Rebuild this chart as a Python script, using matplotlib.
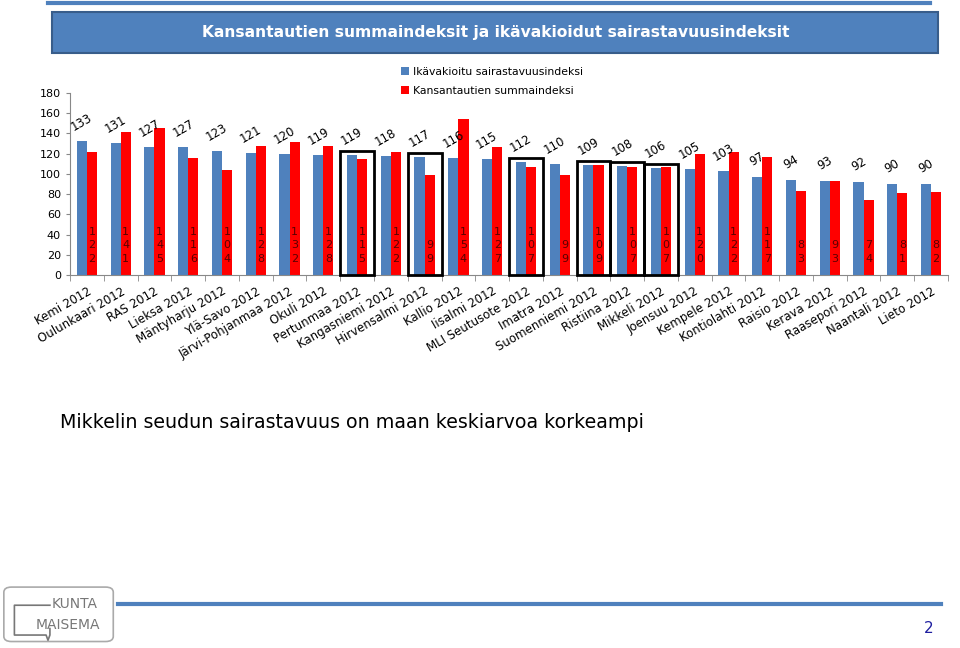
import matplotlib
matplotlib.use("Agg")
import matplotlib.pyplot as plt
from matplotlib.patches import Rectangle, FancyBboxPatch
import numpy as np

areas = ["Kemi 2012", "Oulunkaari 2012", "RAS 2012", "Lieksa 2012", "Mäntyharju 2012",
         "Ylä-Savo 2012", "Järvi-Pohjanmaa 2012", "Okuli 2012", "Pertunmaa 2012",
         "Kangasniemi 2012", "Hirvensalmi 2012", "Kallio 2012", "Iisalmi 2012",
         "MLI Seutusote 2012", "Imatra 2012", "Suomenniemi 2012", "Ristiina 2012",
         "Mikkeli 2012", "Joensuu 2012", "Kempele 2012", "Kontiolahti 2012",
         "Raisio 2012", "Kerava 2012", "Raasepori 2012", "Naantali 2012", "Lieto 2012"]
ikavakioitu = [133, 131, 127, 127, 123, 121, 120, 119, 119, 118, 117, 116, 115,
               112, 110, 109, 108, 106, 105, 103, 97, 94, 93, 92, 90, 90]
summaindeksi = [122, 141, 145, 116, 104, 128, 132, 128, 115, 122, 99, 154, 127,
                107, 99, 109, 107, 107, 120, 122, 117, 83, 93, 74, 81, 82]
# areas highlighted with a black frame
highlighted = ["Pertunmaa 2012", "Hirvensalmi 2012", "MLI Seutusote 2012",
               "Suomenniemi 2012", "Ristiina 2012", "Mikkeli 2012"]

blue = "#4f81bd"
red = "#ff0000"

fig = plt.figure(figsize=(9.6, 6.48), dpi=100)
ax = fig.add_axes([0.073, 0.5756, 0.9145, 0.2809])

x = np.arange(len(areas))
w = 0.3
ax.bar(x - w / 2, ikavakioitu, w, color=blue, label="Ikävakioitu sairastavuusindeksi")
ax.bar(x + w / 2, summaindeksi, w, color=red, label="Kansantautien summaindeksi")

for i in range(len(areas)):
    ax.annotate(str(ikavakioitu[i]), (x[i] - w / 2, ikavakioitu[i]), xytext=(0, 13),
                textcoords="offset points", ha="center", va="center", rotation=30, fontsize=8.5)
    ax.annotate("\n".join(str(summaindeksi[i])), (x[i] + w / 2, 0), xytext=(0, 8),
                textcoords="offset points", ha="center", va="bottom", fontsize=8,
                linespacing=1.45, color="#5a0000")
    if areas[i] in highlighted:
        ax.add_patch(Rectangle((x[i] - 0.5, 0), 1.0, ikavakioitu[i] + 4, fill=False,
                               edgecolor="black", linewidth=2, clip_on=False, zorder=3))

ax.set_xlim(-0.5, len(areas) - 0.5)
ax.set_ylim(0, 180)
ax.set_yticks(range(0, 181, 20))
ax.tick_params(axis="y", labelsize=8, length=3, color="#888888")
ax.set_xticks(x)
ax.set_xticklabels(areas, rotation=30, ha="right", rotation_mode="anchor", fontsize=8.5)
ax.tick_params(axis="x", which="major", length=0, pad=7)
ax.set_xticks(np.arange(-0.5, len(areas), 1), minor=True)
ax.tick_params(axis="x", which="minor", length=4, color="#888888")
for s in ["top", "right"]:
    ax.spines[s].set_visible(False)
ax.spines["left"].set_color("#888888")
ax.spines["bottom"].set_color("#888888")

fig.legend(loc="upper left", bbox_to_anchor=(0.408, 0.912), frameon=False, fontsize=7.8,
           handlelength=0.7, handleheight=0.7, handletextpad=0.4, labelspacing=0.85)

# top line and title box
fig.add_artist(plt.Line2D([0.05, 0.969], [0.995, 0.995], color=blue, linewidth=3))
fig.add_artist(FancyBboxPatch((0.054, 0.918), 0.923, 0.063, boxstyle="square,pad=0",
                              facecolor=blue, edgecolor="#385d8a", linewidth=1.5,
                              transform=fig.transFigure))
fig.text(0.516, 0.950, "Kansantautien summaindeksit ja ikävakioidut sairastavuusindeksit",
         color="white", fontsize=11.2, fontweight="bold", ha="center", va="center")

fig.text(0.062, 0.348, "Mikkelin seudun sairastavuus on maan keskiarvoa korkeampi",
         fontsize=13.7, ha="left", va="center")

# footer
fig.add_artist(plt.Line2D([0.123, 0.98], [0.068, 0.068], color=blue, linewidth=3))
fig.text(0.967, 0.030, "2", color="#1f1fa0", fontsize=11, ha="center", va="center")
fig.add_artist(FancyBboxPatch((0.006, 0.012), 0.11, 0.08, boxstyle="round,pad=0.002,rounding_size=0.008",
                              facecolor="white", edgecolor="#aaaaaa", linewidth=1.2,
                              transform=fig.transFigure))
fig.add_artist(plt.Line2D([0.052, 0.015, 0.015, 0.048, 0.050, 0.052, 0.052],
                          [0.066, 0.066, 0.020, 0.020, 0.012, 0.020, 0.030],
                          color="#777777", linewidth=1.2))
fig.text(0.054, 0.068, "KUNTA", fontsize=10, color="#777777", ha="left", va="center")
fig.text(0.104, 0.035, "MAISEMA", fontsize=10, color="#777777", ha="right", va="center")

fig.savefig("out.png", dpi=100)
